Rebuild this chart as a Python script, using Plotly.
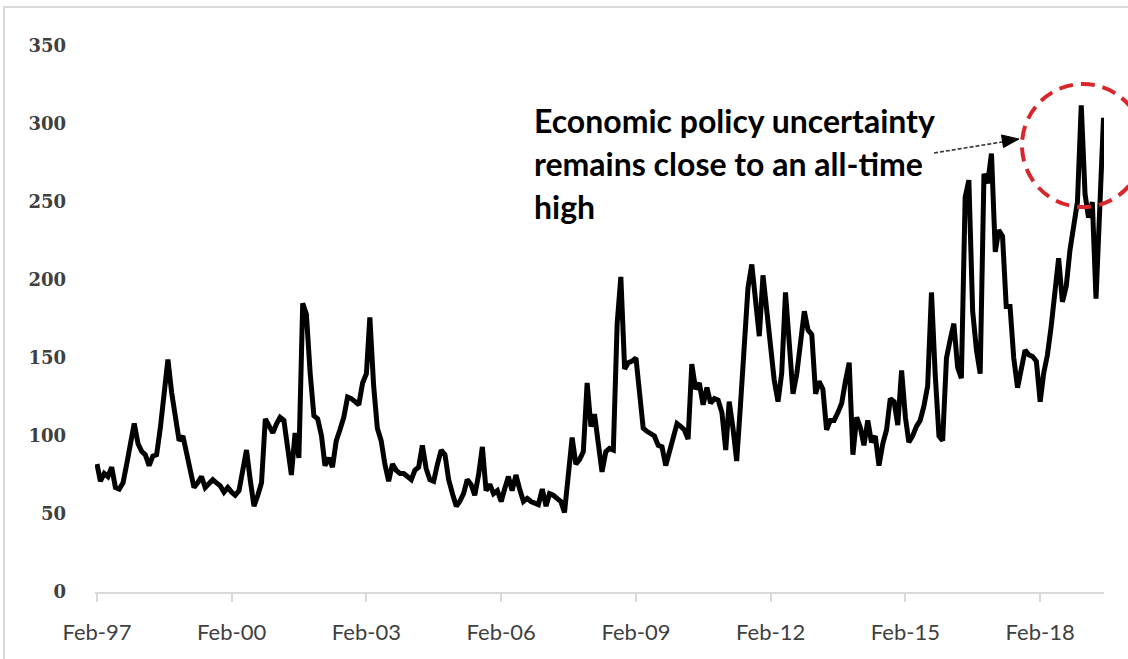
import pandas as pd
import plotly.graph_objects as go

# Monthly economic policy uncertainty index, Feb 1997 onwards
epu_values = [
    # 1997-02 .. 2000-02
    82, 71, 76, 74, 80, 67, 66, 70, 82, 97,
    108, 95, 90, 88, 81, 87, 88, 105, 128, 149,
    128, 110, 97, 100, 88, 75, 67, 70, 74, 67,
    70, 72, 70, 68, 64, 67, 64,
    # 2000-03 .. 2003-03
    62, 65, 80, 91, 72, 55, 62, 70, 111, 106,
    102, 108, 112, 110, 95, 75, 102, 86, 185, 178,
    140, 113, 111, 100, 81, 86, 80, 97, 104, 112,
    125, 124, 122, 120, 134, 140, 176,
    # 2003-04 .. 2006-04
    132, 105, 97, 82, 71, 82, 78, 76, 76, 74,
    72, 78, 80, 94, 79, 72, 71, 82, 91, 88,
    72, 63, 55, 58, 63, 72, 69, 62, 75, 93,
    65, 69, 63, 65, 58, 66, 74,
    # 2006-05 .. 2009-04
    65, 75, 66, 58, 60, 58, 57, 56, 66, 55,
    63, 62, 60, 58, 51, 75, 99, 82, 85, 90,
    134, 106, 114, 95, 77, 90, 92, 91, 172, 202,
    143, 147, 148, 150, 128, 105,
    # 2009-05 .. 2012-04
    103, 101, 100, 94, 93, 81, 90, 100, 108, 106,
    104, 98, 146, 130, 134, 120, 131, 121, 124, 123,
    115, 91, 122, 105, 84, 120, 160, 195, 210, 185,
    164, 203, 180, 155, 136, 122,
    # 2012-05 .. 2015-03
    140, 192, 160, 127, 140, 157, 180, 168, 165, 127,
    135, 130, 104, 110, 110, 115, 121, 135, 147, 88,
    112, 105, 94, 110, 96, 100, 81, 95, 104, 124,
    122, 107, 142, 112, 96,
    # 2015-04 .. 2018-04
    100, 106, 110, 119, 132, 192, 140, 100, 97, 150,
    162, 172, 144, 137, 253, 264, 180, 155, 140, 268,
    262, 281, 218, 232, 228, 183, 183, 150, 131, 145,
    155, 152, 151, 148, 122, 140, 152,
    # 2018-05 .. 2019-07
    170, 190, 214, 186, 196, 219, 236, 250, 312, 255,
    240, 250, 188, 245, 304,
]
epu_dates = pd.date_range("1997-02-01", periods=len(epu_values), freq="MS")

tick_dates = ["1997-02-01", "2000-02-01", "2003-02-01", "2006-02-01",
              "2009-02-01", "2012-02-01", "2015-02-01", "2018-02-01"]
tick_labels = ["Feb-97", "Feb-00", "Feb-03", "Feb-06",
               "Feb-09", "Feb-12", "Feb-15", "Feb-18"]

note_lines = ["Economic policy uncertainty",
              "remains close to an all-time",
              "high"]

W, H = 1128, 659
ML, MR, MT, MB = 95, 24, 46, 67
PW, PH = W - ML - MR, H - MT - MB


def fx(px):
    """Pixel column -> paper x."""
    return (px - ML) / PW


def fy(py):
    """Pixel row -> paper y."""
    return (H - MB - py) / PH


fig = go.Figure()
fig.add_trace(go.Scatter(
    x=epu_dates, y=epu_values, mode="lines",
    line=dict(color="#000000", width=5),
    hoverinfo="skip", showlegend=False,
))

shapes = []
# outer chart frame
shapes.append(dict(type="rect", xref="paper", yref="paper",
                   x0=fx(4), x1=fx(1140), y0=fy(680), y1=fy(7),
                   line=dict(color="#d9d9d9", width=2), layer="below"))
# dashed red highlight ring
shapes.append(dict(type="circle", xref="paper", yref="paper",
                   x0=fx(1022), x1=fx(1144), y0=fy(207), y1=fy(84),
                   line=dict(color="#d9262b", width=4, dash="14px,8px")))
# dashed pointer shaft
shapes.append(dict(type="line", xref="paper", yref="paper",
                   x0=fx(934), y0=fy(153), x1=fx(1005), y1=fy(141.5),
                   line=dict(color="#333333", width=1.6, dash="4px,2px")))
# pointer head
tip = (1019, 139)
b1 = (1003.5, 147.5)
b2 = (1001.5, 135.0)
head_path = "M {} {} L {} {} L {} {} Z".format(
    fx(tip[0]), fy(tip[1]), fx(b1[0]), fy(b1[1]), fx(b2[0]), fy(b2[1]))
shapes.append(dict(type="path", xref="paper", yref="paper", path=head_path,
                   fillcolor="#000000", line=dict(color="#000000", width=1)))

annotations = []
for text, cy in zip(note_lines, [121, 163, 207]):
    annotations.append(dict(
        text=text, xref="paper", yref="paper", x=fx(532), y=fy(cy),
        xanchor="left", yanchor="middle", showarrow=False,
        font=dict(family="Liberation Sans Narrow, Lato, sans-serif",
                  size=32, color="#000000", weight="bold"),
    ))

fig.update_layout(
    width=W, height=H,
    margin=dict(l=ML, r=MR, t=MT, b=MB),
    paper_bgcolor="#ffffff", plot_bgcolor="#ffffff",
    shapes=shapes, annotations=annotations,
    xaxis=dict(
        type="date", range=["1997-01-16", "2019-07-05"],
        tickvals=tick_dates, ticktext=tick_labels,
        showgrid=False, zeroline=False,
        showline=True, linecolor="#d9d9d9", linewidth=2,
        ticks="outside", ticklen=8, tickcolor="#d9d9d9", tickwidth=1.5,
        ticklabelstandoff=12,
        tickfont=dict(family="Lato, sans-serif", size=22, color="#404040"),
    ),
    yaxis=dict(
        range=[0, 350], tickmode="linear", tick0=0, dtick=50,
        showgrid=False, zeroline=False, showline=False, ticks="",
        ticklabelstandoff=28,
        tickfont=dict(family="DejaVu Serif, serif", size=18,
                      color="#404040", weight="bold"),
    ),
)

fig.write_html("out.html")
